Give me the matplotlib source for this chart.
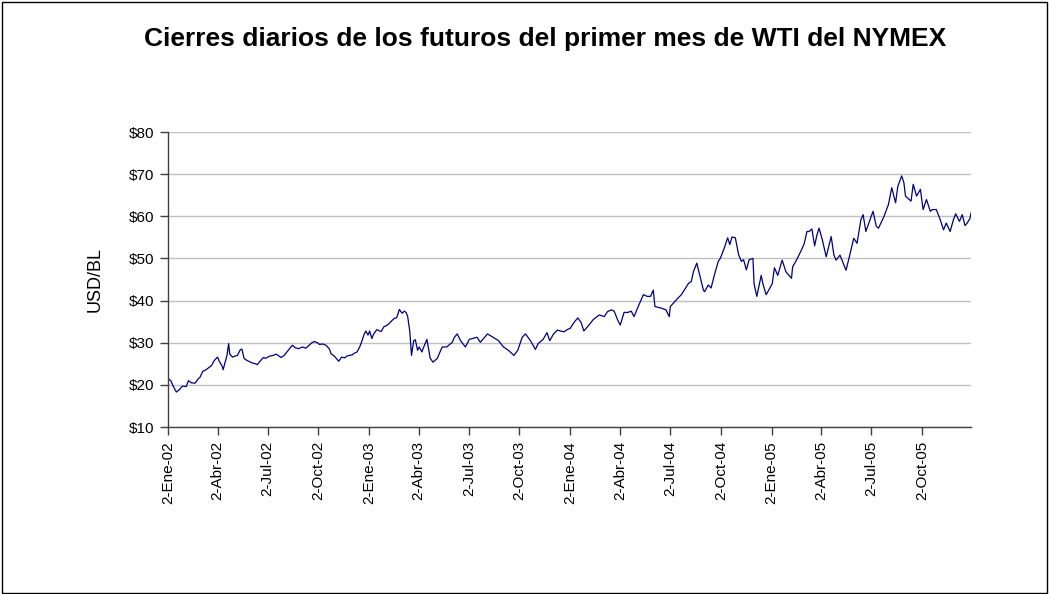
import matplotlib
matplotlib.use('Agg')
import matplotlib.pyplot as plt
from matplotlib.patches import Rectangle
import numpy as np

plt.rcParams['font.family'] = ['Liberation Sans', 'DejaVu Sans']

# --- cierres (lectura aproximada del grafico) ---
fechas = [
    '2002-01-02', '2002-01-07', '2002-01-11', '2002-01-17', '2002-01-22', '2002-01-28',
    '2002-02-04', '2002-02-08', '2002-02-13', '2002-02-20', '2002-02-26', '2002-03-01',
    '2002-03-06', '2002-03-12', '2002-03-18', '2002-03-22', '2002-03-27', '2002-04-02',
    '2002-04-05', '2002-04-10', '2002-04-12', '2002-04-16', '2002-04-19', '2002-04-22',
    '2002-04-24', '2002-04-29', '2002-05-03', '2002-05-08', '2002-05-13', '2002-05-16',
    '2002-05-20', '2002-05-24', '2002-05-30', '2002-06-04', '2002-06-10', '2002-06-13',
    '2002-06-18', '2002-06-24', '2002-06-28', '2002-07-05', '2002-07-12', '2002-07-17',
    '2002-07-22', '2002-07-26', '2002-08-01', '2002-08-07', '2002-08-13', '2002-08-16',
    '2002-08-21', '2002-08-27', '2002-09-03', '2002-09-09', '2002-09-16', '2002-09-20',
    '2002-09-25', '2002-09-30', '2002-10-04', '2002-10-10', '2002-10-16', '2002-10-22',
    '2002-10-25', '2002-10-31', '2002-11-06', '2002-11-08', '2002-11-13', '2002-11-19',
    '2002-11-22', '2002-11-27', '2002-12-02', '2002-12-06', '2002-12-11', '2002-12-16',
    '2002-12-20', '2002-12-24', '2002-12-27', '2002-12-31',
    '2003-01-03', '2003-01-07', '2003-01-10', '2003-01-16', '2003-01-21', '2003-01-24',
    '2003-01-29', '2003-02-03', '2003-02-07', '2003-02-12', '2003-02-17', '2003-02-21',
    '2003-02-26', '2003-03-03', '2003-03-07', '2003-03-10', '2003-03-13', '2003-03-17',
    '2003-03-20', '2003-03-24', '2003-03-27', '2003-03-31', '2003-04-03', '2003-04-08',
    '2003-04-10', '2003-04-17', '2003-04-23', '2003-04-28', '2003-05-06', '2003-05-12',
    '2003-05-15', '2003-05-23', '2003-06-02', '2003-06-06', '2003-06-11', '2003-06-17',
    '2003-06-26', '2003-07-03', '2003-07-17', '2003-07-23', '2003-08-05', '2003-08-15',
    '2003-08-25', '2003-09-03', '2003-09-12', '2003-09-22', '2003-09-29', '2003-10-07',
    '2003-10-13', '2003-10-22', '2003-10-31', '2003-11-05', '2003-11-14', '2003-11-21',
    '2003-11-26', '2003-12-03', '2003-12-10', '2003-12-15', '2003-12-22', '2003-12-29',
    '2004-01-02', '2004-01-09', '2004-01-16', '2004-01-22', '2004-01-27', '2004-02-04',
    '2004-02-13', '2004-02-24', '2004-03-04', '2004-03-10', '2004-03-17', '2004-03-22',
    '2004-03-29', '2004-04-02', '2004-04-09', '2004-04-16', '2004-04-22', '2004-04-27',
    '2004-05-06', '2004-05-14', '2004-05-21', '2004-05-27', '2004-06-01', '2004-06-04',
    '2004-06-16', '2004-06-24', '2004-06-30', '2004-07-02', '2004-07-13', '2004-07-22',
    '2004-08-04', '2004-08-09', '2004-08-13', '2004-08-19', '2004-08-31', '2004-09-02',
    '2004-09-09', '2004-09-14', '2004-09-20', '2004-09-27', '2004-10-01', '2004-10-08',
    '2004-10-14', '2004-10-18', '2004-10-22', '2004-10-28', '2004-11-03', '2004-11-08',
    '2004-11-12', '2004-11-17', '2004-11-22', '2004-11-29', '2004-12-01', '2004-12-06',
    '2004-12-14', '2004-12-17', '2004-12-23',
    '2005-01-03', '2005-01-07', '2005-01-13', '2005-01-21', '2005-01-28', '2005-02-07',
    '2005-02-09', '2005-02-16', '2005-02-25', '2005-03-02', '2005-03-07', '2005-03-11',
    '2005-03-16', '2005-03-21', '2005-03-25', '2005-03-29', '2005-04-04', '2005-04-11',
    '2005-04-20', '2005-04-25', '2005-04-29', '2005-05-06', '2005-05-17', '2005-05-23',
    '2005-05-31', '2005-06-06', '2005-06-13', '2005-06-17', '2005-06-22', '2005-07-05',
    '2005-07-11', '2005-07-15', '2005-07-25', '2005-08-02', '2005-08-08', '2005-08-15',
    '2005-08-19', '2005-08-26', '2005-08-30', '2005-09-02', '2005-09-12', '2005-09-16',
    '2005-09-22', '2005-09-29', '2005-10-04', '2005-10-10', '2005-10-17', '2005-10-21',
    '2005-10-28', '2005-11-04', '2005-11-10', '2005-11-15', '2005-11-22', '2005-11-28',
    '2005-12-02', '2005-12-09', '2005-12-14', '2005-12-19', '2005-12-23', '2005-12-28',
    '2005-12-30',
]
cierres = [
    21.5, 21.0, 19.8, 18.3, 18.8, 19.7,
    19.6, 21.0, 20.5, 20.4, 21.5, 21.8,
    23.2, 23.6, 24.2, 24.6, 25.8, 26.6,
    25.6, 24.5, 23.6, 25.5, 27.0, 29.8,
    27.3, 26.6, 26.8, 27.0, 28.3, 28.5,
    26.3, 25.9, 25.5, 25.2, 25.0, 24.8,
    25.6, 26.5, 26.3, 26.8, 27.0, 27.3,
    26.9, 26.5, 27.0, 28.0, 29.0, 29.4,
    28.8, 28.6, 29.0, 28.7, 29.5, 30.0,
    30.3, 30.0, 29.6, 29.7, 29.4, 28.5,
    27.4, 26.8, 25.9, 25.6, 26.6, 26.4,
    26.8, 27.0, 27.1, 27.5, 27.8, 29.0,
    30.4, 32.0, 32.8, 31.8,
    32.8, 31.0, 32.0, 33.1, 32.8, 32.7,
    33.8, 34.1, 34.5, 35.2, 35.8, 35.9,
    37.9, 37.0, 37.5, 37.2, 36.3, 32.6,
    27.0, 30.5, 30.7, 28.2, 29.0, 27.8,
    28.6, 30.8, 26.3, 25.4, 26.3, 28.2,
    29.0, 29.0, 30.1, 31.3, 32.1, 30.5,
    29.0, 30.8, 31.3, 30.1, 32.1, 31.3,
    30.5, 29.0, 28.2, 27.0, 28.2, 31.3,
    32.1, 30.5, 28.4, 29.8, 30.8, 32.4,
    30.5, 32.1, 33.0, 32.8, 32.6, 33.2,
    33.4, 34.8, 35.9, 34.8, 32.8, 34.0,
    35.5, 36.6, 36.2, 37.4, 37.8, 37.5,
    35.2, 34.2, 37.2, 37.2, 37.5, 36.2,
    39.0, 41.4, 41.0, 41.0, 42.5, 38.6,
    38.2, 37.8, 36.2, 38.6, 40.2, 41.4,
    44.1, 44.5, 46.9, 48.9, 42.5, 42.1,
    43.7, 43.0, 46.1, 49.3, 50.1, 52.5,
    54.9, 53.3, 55.1, 54.9, 50.9, 49.3,
    49.7, 47.3, 49.7, 50.0, 44.0, 41.0,
    46.0, 44.0, 41.4,
    44.0, 47.8, 46.0, 49.6, 46.8, 45.3,
    48.0, 49.6, 52.0, 53.5, 56.4, 56.4,
    57.0, 53.0, 55.5, 57.2, 54.4, 50.4,
    55.2, 50.8, 49.6, 50.8, 47.2, 50.4,
    54.8, 53.6, 59.2, 60.4, 56.4, 61.2,
    57.6, 57.2, 60.0, 62.8, 66.8, 63.2,
    67.1, 69.6, 68.0, 64.8, 63.6, 67.6,
    64.8, 66.4, 61.6, 64.0, 61.2, 61.6,
    61.6, 59.2, 56.8, 58.4, 56.4, 59.2,
    60.6, 58.8, 60.4, 57.8, 58.4, 59.5,
    60.8,
]

marcas = ['2002-01-02', '2002-04-02', '2002-07-02', '2002-10-02',
          '2003-01-02', '2003-04-02', '2003-07-02', '2003-10-02',
          '2004-01-02', '2004-04-02', '2004-07-02', '2004-10-02',
          '2005-01-02', '2005-04-02', '2005-07-02', '2005-10-02']
etiquetas = ['2-Ene-02', '2-Abr-02', '2-Jul-02', '2-Oct-02',
             '2-Ene-03', '2-Abr-03', '2-Jul-03', '2-Oct-03',
             '2-Ene-04', '2-Abr-04', '2-Jul-04', '2-Oct-04',
             '2-Ene-05', '2-Abr-05', '2-Jul-05', '2-Oct-05']
niveles = [10, 20, 30, 40, 50, 60, 70, 80]

x = np.array(fechas, dtype='datetime64[D]')
y = np.array(cierres)

fig = plt.figure(figsize=(10.49, 5.94), dpi=100)
ax = fig.add_axes([0.1602, 0.2811, 0.7655, 0.4966])

ax.plot(x, y, color='#000080', lw=0.9)

ax.set_ylim(10, 80)
ax.set_xlim(np.datetime64('2002-01-02'), np.datetime64('2005-12-30'))
ax.set_yticks(niveles)
ax.set_yticklabels(['$%d' % v for v in niveles], fontsize=11)
ax.set_xticks(np.array(marcas, dtype='datetime64[D]'))
ax.set_xticklabels(etiquetas, rotation=90, fontsize=11)
ax.tick_params(axis='both', direction='out', length=6, width=1, color='#404040', pad=4)

ax.grid(axis='y', color='#c0c0c0', lw=1)
ax.set_axisbelow(True)
for s in ['top', 'right']:
    ax.spines[s].set_visible(False)
for s in ['left', 'bottom']:
    ax.spines[s].set_color('#404040')
    ax.spines[s].set_linewidth(1)

ax.set_ylabel('USD/BL', fontsize=13, labelpad=18)

fig.text(0.52, 0.935, 'Cierres diarios de los futuros del primer mes de WTI del NYMEX',
         ha='center', va='center', fontsize=19, fontweight='bold')

# marco exterior del grafico
fig.patches.append(Rectangle((0.002, 0.002), 0.996, 0.995, transform=fig.transFigure,
                             fill=False, edgecolor='black', lw=1))

plt.savefig('out.png', dpi=100)
